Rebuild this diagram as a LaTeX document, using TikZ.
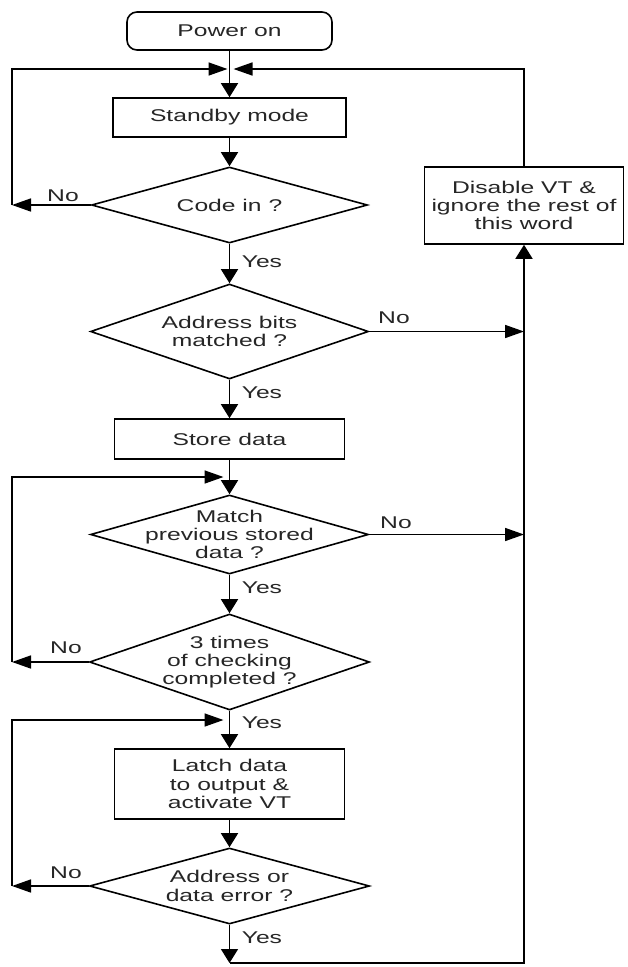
\documentclass[tikz,border=0pt]{standalone}
\usepackage{fontspec}
\setmainfont{Liberation Sans}[FakeStretch=1.45]
\usetikzlibrary{arrows.meta,shapes.geometric,calc}
\begin{document}
\begin{tikzpicture}[x=1pt,y=-1pt,
  font=\fontsize{17}{18.4}\selectfont,
  line width=1.6pt,
  every node/.style={text=black!85},
  box/.style={draw=black, rectangle, inner sep=0pt, align=center},
  term/.style={box, rounded corners=10pt},
  dia/.style 2 args={draw=black, diamond, inner sep=0pt, minimum width=#1, minimum height=#2},
  txt/.style={align=center, inner sep=0pt},
  lbl/.style={inner sep=0pt},
  va/.style={-{Triangle[length=14pt,width=17pt]}},
  ha/.style={-{Triangle[length=19pt,width=13pt]}}
]
\useasboundingbox[fill=white] (0,0) rectangle (628,967);

% nodes
\node[term, minimum width=205pt, minimum height=38pt] (power) at (229.5,31) {Power on};
\node[box, minimum width=233pt, minimum height=39pt] (standby) at (229.5,117.5) {Standby mode};
\node[dia={276pt}{76pt}] (code) at (229.5,205) {};
\node[txt] (codet) at (code) {Code in ?};
\node[dia={278pt}{95pt}] (addr) at (229.5,331.5) {};
\node[txt] (addrt) at (addr) {Address bits\\matched ?};
\node[box, minimum width=230pt, minimum height=40pt] (store) at (229.5,439) {Store data};
\node[dia={278pt}{79pt}] (match) at (229.5,534.5) {};
\node[txt] (matcht) at (match) {Match\\previous stored\\data ?};
\node[dia={280pt}{96pt}] (times) at (229.5,662) {};
\node[txt] (timest) at (times) {3 times\\of checking\\completed ?};
\node[box, minimum width=230pt, minimum height=70pt] (latch) at (229.5,784) {Latch data\\to output \&\\activate VT};
\node[dia={280pt}{76pt}] (err) at (229.5,886) {};
\node[txt] (errt) at (err) {Address or\\data error ?};
\node[box, minimum width=199pt, minimum height=77pt] (dis) at (524,205.5) {Disable VT \&\\ignore the rest of\\this word};

% junctions and corners
\coordinate (J1) at (229.5,69);
\coordinate (J2) at (229.5,477);
\coordinate (J3) at (229.5,720);
\coordinate (B) at (229.5,963);
\coordinate (L1) at (12,205);
\coordinate (L2) at (12,662);
\coordinate (L3) at (12,886);

% connectors
\draw[va] (power.south) -- (standby.north);
\draw[va] (standby.south) -- (code.north);
\draw[ha] (code.west) -- (L1);
\draw[ha] (L1) -- (L1 |- J1) -- ([xshift=-2pt]J1);
\draw[ha] (dis.north) -- (dis.north |- J1) -- ([xshift=4pt]J1);
\draw[va] (code.south) -- (addr.north);
\draw[ha] (addr.east) -- (addr.east -| dis.south);
\draw[va] (addr.south) -- (store.north);
\draw[va] (store.south) -- (match.north);
\draw[ha] (L2) -- (L2 |- J2) -- ([xshift=-6pt]J2);
\draw[ha] (match.east) -- (match.east -| dis.south);
\draw[va] (match.south) -- (times.north);
\draw[ha] (times.west) -- (L2);
\draw[va] (times.south) -- (latch.north);
\draw[ha] (L3) -- (L3 |- J3) -- ([xshift=-6pt]J3);
\draw[va] (latch.south) -- (err.north);
\draw[ha] (err.west) -- (L3);
\draw[va] (err.south) -- (B);
\draw[va] (B) -- (B -| dis.south) -- (dis.south);

% labels
\node[lbl] (no1) at (63,196) {No};
\node[lbl, anchor=west] (yes1) at (241,262) {Yes};
\node[lbl] (no2) at (394,318) {No};
\node[lbl, anchor=west] (yes2) at (241,393) {Yes};
\node[lbl] (no3) at (396,523) {No};
\node[lbl, anchor=west] (yes3) at (241,588) {Yes};
\node[lbl] (no4) at (66,648) {No};
\node[lbl, anchor=west] (yes4) at (241,723) {Yes};
\node[lbl] (no5) at (66,873) {No};
\node[lbl, anchor=west] (yes5) at (241,938) {Yes};
\end{tikzpicture}
\end{document}
